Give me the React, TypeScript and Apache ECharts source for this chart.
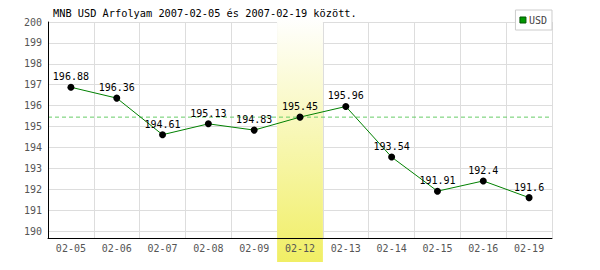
import React, { useEffect, useRef } from "react";
import * as echarts from "echarts";

const titleText = "MNB USD Árfolyam 2007-02-05 és 2007-02-19 között.";
const seriesName = "USD";
const categories = ["02-05", "02-06", "02-07", "02-08", "02-09", "02-12", "02-13", "02-14", "02-15", "02-16", "02-19"];
const values = [196.88, 196.36, 194.61, 195.13, 194.83, 195.45, 195.96, 193.54, 191.91, 192.4, 191.6];
const highlightDate = "02-12";
const yTicks = [190, 191, 192, 193, 194, 195, 196, 197, 198, 199, 200];
const yMin = 189.67;
const yMax = 200;

const FONT = "DejaVu Sans Mono";

export default function App() {
  const ref = useRef<HTMLDivElement>(null);
  useEffect(() => {
    if (!ref.current) return;
    const chart = echarts.init(ref.current, null, { renderer: "svg" });
    const hiIdx = categories.indexOf(highlightDate);
    const hiValue = values[hiIdx];
    const gridLeft = 48;
    const gridRight = 48;
    const option: any = {
      animation: false,
      backgroundColor: "#ffffff",
      title: {
        text: titleText,
        left: 53,
        top: 8,
        padding: 0,
        textStyle: { fontFamily: FONT, fontSize: 10.3, fontWeight: "normal", color: "#000" },
      },
      legend: {
        data: [seriesName],
        right: 48,
        top: 10,
        orient: "horizontal",
        padding: [5, 5, 5, 4],
        itemWidth: 6,
        itemHeight: 6,
        itemGap: 4,
        icon: "rect",
        borderColor: "#cccccc",
        borderWidth: 1,
        backgroundColor: "#ffffff",
        z: 10,
        textStyle: { fontFamily: FONT, fontSize: 10, color: "#444", padding: [0, 0, 0, -2] },
        itemStyle: { color: "#009900", borderColor: "#005500", borderWidth: 1 },
      },
      grid: [
        { left: gridLeft, right: gridRight, top: 22, bottom: 32, containLabel: false },
        { left: gridLeft, right: gridRight, top: 17, bottom: 0, containLabel: false },
      ],
      xAxis: [
        {
          type: "category",
          gridIndex: 0,
          data: categories,
          boundaryGap: true,
          z: 0,
          axisLine: { show: false },
          axisTick: { show: false },
          axisLabel: { show: false },
          splitLine: { show: true, interval: 0, lineStyle: { color: "#dddddd", width: 1 } },
        },
        {
          type: "category",
          gridIndex: 0,
          data: categories,
          position: "bottom",
          z: 5,
          axisLine: { show: true, onZero: false, lineStyle: { color: "#000", width: 1 } },
          axisTick: { show: false },
          axisLabel: { fontFamily: FONT, fontSize: 10, color: "#555", margin: 5, interval: 0 },
          splitLine: { show: false },
        },
        {
          type: "category",
          gridIndex: 1,
          data: categories,
          show: false,
        },
        {
          type: "value",
          gridIndex: 0,
          min: 0,
          max: 1,
          show: false,
        },
      ],
      yAxis: [
        {
          type: "value",
          gridIndex: 0,
          min: yMin,
          max: yMax,
          z: 0,
          axisLine: { show: false },
          axisTick: { show: false, customValues: yTicks },
          axisLabel: { customValues: yTicks, fontFamily: FONT, fontSize: 10, color: "#555", margin: 6 },
          splitLine: { show: true, lineStyle: { color: "#dddddd", width: 1 } },
        },
        {
          type: "value",
          gridIndex: 0,
          min: yMin,
          max: yMax,
          position: "left",
          z: 5,
          axisLine: { show: true, onZero: false, lineStyle: { color: "#000", width: 1 } },
          axisTick: { show: false },
          axisLabel: { show: false },
          splitLine: { show: false },
        },
        {
          type: "value",
          gridIndex: 1,
          min: 0,
          max: 1,
          show: false,
        },
      ],
      series: [
        {
          type: "bar",
          name: "highlight",
          xAxisIndex: 2,
          yAxisIndex: 2,
          data: categories.map((c) => (c === highlightDate ? 1 : null)),
          barWidth: "100%",
          barCategoryGap: 0,
          silent: true,
          z: 1,
          itemStyle: {
            color: new echarts.graphic.LinearGradient(0, 0, 0, 1, [
              { offset: 0, color: "#ffffff" },
              { offset: 1, color: "#f0ee60" },
            ]),
          },
        },
        {
          type: "line",
          name: "reference",
          xAxisIndex: 3,
          yAxisIndex: 0,
          data: [
            [0, hiValue],
            [1, hiValue],
          ],
          z: 4,
          silent: true,
          symbol: "none",
          lineStyle: { color: "#66cc66", type: [4, 3], width: 1 },
          itemStyle: { color: "#66cc66" },
        },
        {
          type: "line",
          name: seriesName,
          xAxisIndex: 0,
          yAxisIndex: 0,
          data: values,
          z: 6,
          symbol: "circle",
          symbolSize: 7,
          lineStyle: { color: "#008000", width: 1 },
          itemStyle: { color: "#000000" },
          label: {
            show: true,
            position: "top",
            distance: 2,
            fontFamily: FONT,
            fontSize: 10,
            color: "#000",
          },
        },
      ],
    };
    chart.setOption(option);
    return () => chart.dispose();
  }, []);
  return <div ref={ref} style={{ width: 600, height: 270, margin: -8 }} />;
}
